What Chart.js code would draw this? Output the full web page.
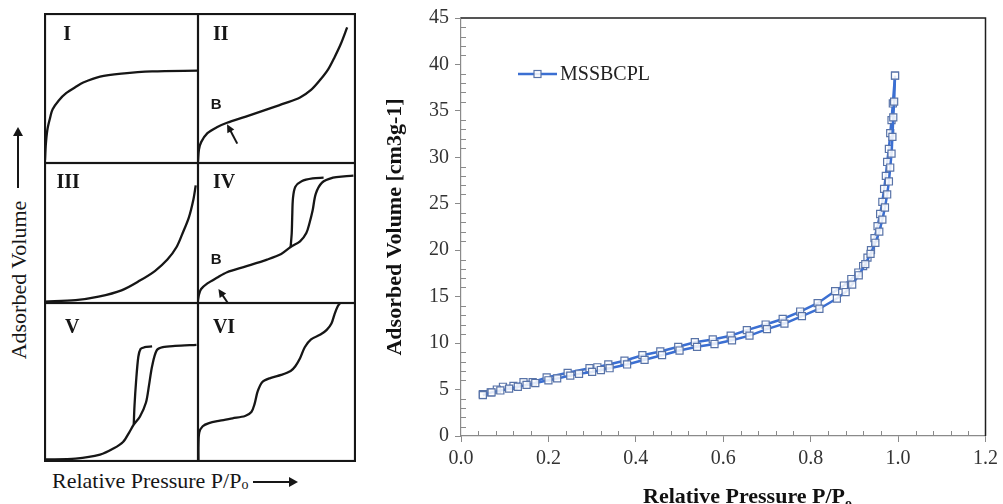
<!DOCTYPE html>
<html>
<head>
<meta charset="utf-8">
<title>Isotherm types and MSSBCPL isotherm</title>
<script src="https://cdn.jsdelivr.net/npm/chart.js@4.4.1/dist/chart.umd.min.js"></script>
<style>
  html, body { margin: 0; padding: 0; background: #fff; }
  body {
    position: relative;
    width: 1003px;
    height: 504px;
    overflow: hidden;
    font-family: "Liberation Serif", "Times New Roman", serif;
    color: #161616;
  }
  .panel { position: absolute; }
  #isoWrap { position: absolute; left: 380px; top: 0; width: 623px; height: 504px; }

  /* captions of the isotherm-type sketch */
  .volTitle {
    position: absolute; left: 19px; top: 280px;
    font-size: 22px; line-height: 22px; white-space: nowrap;
    transform: translate(-50%, -50%) rotate(-90deg);
  }
  .arrowUp { position: absolute; left: 17px; top: 131px; width: 2px; height: 57px; background: #161616; }
  .arrowUp::before {
    content: ""; position: absolute; left: -4px; top: -4px;
    border-left: 5px solid transparent; border-right: 5px solid transparent;
    border-bottom: 9px solid #161616;
  }
  .presTitle {
    position: absolute; left: 52px; top: 470px;
    font-size: 22px; line-height: 22px; white-space: nowrap;
  }
  .presTitle .o { font-size: 14px; vertical-align: -1px; }
  .arrowRight { position: absolute; left: 253px; top: 481px; width: 41px; height: 2px; background: #161616; }
  .arrowRight::after {
    content: ""; position: absolute; right: -4px; top: -4px;
    border-top: 5px solid transparent; border-bottom: 5px solid transparent;
    border-left: 9px solid #161616;
  }

  /* x axis title of the MSSBCPL chart */
  .xTitle {
    position: absolute; left: 643px; top: 485px;
    font-size: 22px; line-height: 22px; font-weight: bold; white-space: nowrap; color: #111;
  }
  .xTitle .o { font-size: 14px; vertical-align: -5px; }
</style>
</head>
<body>

<div class="arrowUp"></div>
<div class="volTitle">Adsorbed Volume</div>
<div class="presTitle">Relative Pressure P/P<span class="o">o</span></div>
<div class="arrowRight"></div>

<div id="isoWrap"><canvas id="isoChart"></canvas></div>
<div class="xTitle">Relative Pressure P/P<span class="o">o</span></div>

<script>
// ---- IUPAC isotherm type sketches (relative units, 0..1 in each box) ----
const typeIP = [0, 0.005, 0.015, 0.03, 0.05, 0.09, 0.14, 0.2, 0.25, 0.36, 0.5, 0.7, 1.0];
const typeIV_ = [0.02, 0.12, 0.22, 0.29, 0.36, 0.42, 0.47, 0.51, 0.54, 0.58, 0.6, 0.615, 0.62];

const typeIIP = [0, 0.006, 0.02, 0.06, 0.12, 0.185, 0.3, 0.44, 0.55, 0.65, 0.72, 0.78, 0.83, 0.87, 0.91, 0.95];
const typeIIV = [0.01, 0.09, 0.14, 0.2, 0.24, 0.27, 0.31, 0.36, 0.4, 0.44, 0.49, 0.56, 0.63, 0.71, 0.8, 0.91];

const typeIIIP = [0, 0.2, 0.35, 0.5, 0.62, 0.72, 0.8, 0.86, 0.9, 0.94, 0.97, 0.985];
const typeIIIV = [0.01, 0.02, 0.045, 0.09, 0.16, 0.23, 0.31, 0.4, 0.5, 0.61, 0.74, 0.84];

const typeIVadsP = [0, 0.006, 0.02, 0.06, 0.12, 0.185, 0.3, 0.44, 0.53, 0.59, 0.65, 0.69, 0.71, 0.73, 0.75, 0.79, 0.86, 0.93, 0.99];
const typeIVadsV = [0.02, 0.06, 0.1, 0.14, 0.18, 0.22, 0.26, 0.31, 0.35, 0.4, 0.44, 0.5, 0.57, 0.66, 0.78, 0.86, 0.895, 0.905, 0.91];
const typeIVdesP = [0.59, 0.597, 0.6, 0.605, 0.62, 0.66, 0.73, 0.8];
const typeIVdesV = [0.4, 0.5, 0.61, 0.75, 0.83, 0.87, 0.89, 0.895];

const typeVadsP = [0, 0.2, 0.36, 0.45, 0.51, 0.55, 0.58, 0.62, 0.66, 0.68, 0.7, 0.73, 0.77, 0.85, 0.99];
const typeVadsV = [0.01, 0.015, 0.04, 0.08, 0.12, 0.18, 0.23, 0.28, 0.37, 0.48, 0.6, 0.7, 0.72, 0.728, 0.735];
const typeVdesP = [0.58, 0.585, 0.595, 0.61, 0.625, 0.65, 0.7];
const typeVdesV = [0.23, 0.35, 0.5, 0.66, 0.71, 0.72, 0.725];

const typeVIP = [0.003, 0.003, 0.008, 0.03, 0.07, 0.14, 0.22, 0.3, 0.34, 0.36, 0.38, 0.41, 0.46, 0.53, 0.59, 0.62, 0.65, 0.68, 0.72, 0.78, 0.82, 0.85, 0.87, 0.89, 0.905];
const typeVIV = [0, 0.1, 0.18, 0.22, 0.24, 0.255, 0.27, 0.285, 0.31, 0.36, 0.44, 0.5, 0.525, 0.545, 0.57, 0.6, 0.65, 0.72, 0.77, 0.8, 0.83, 0.87, 0.93, 0.98, 1.0];

// ---- MSSBCPL N2 isotherm ----
const adsP = [0.05, 0.07, 0.09, 0.11, 0.13, 0.15, 0.17, 0.20, 0.22, 0.25, 0.27, 0.30, 0.32, 0.34, 0.38, 0.42, 0.46, 0.50, 0.54, 0.58, 0.62, 0.66, 0.70, 0.74, 0.78, 0.82, 0.86, 0.88, 0.895, 0.91, 0.925, 0.937, 0.948, 0.957, 0.964, 0.970, 0.975, 0.979, 0.982, 0.985, 0.987, 0.989, 0.991, 0.993];
const adsV = [4.4, 4.7, 4.9, 5.1, 5.3, 5.5, 5.7, 6.0, 6.2, 6.5, 6.7, 6.9, 7.1, 7.3, 7.7, 8.2, 8.7, 9.2, 9.6, 9.9, 10.3, 10.8, 11.5, 12.1, 12.9, 13.7, 14.8, 15.5, 16.3, 17.3, 18.5, 19.6, 20.8, 22.0, 23.3, 24.6, 26.0, 27.4, 28.9, 30.4, 32.2, 34.3, 36.0, 38.8];
const desP = [0.993, 0.988, 0.985, 0.982, 0.979, 0.975, 0.972, 0.968, 0.964, 0.959, 0.953, 0.946, 0.938, 0.930, 0.920, 0.909, 0.893, 0.876, 0.856, 0.816, 0.776, 0.736, 0.697, 0.654, 0.617, 0.576, 0.535, 0.497, 0.456, 0.415, 0.374, 0.337, 0.312, 0.294, 0.244, 0.196, 0.164, 0.143, 0.12, 0.096, 0.082, 0.068, 0.05];
const desV = [38.8, 35.8, 34.0, 32.6, 30.9, 29.5, 28.0, 26.6, 25.2, 23.9, 22.6, 21.3, 20.0, 19.2, 18.3, 17.6, 16.9, 16.2, 15.6, 14.3, 13.4, 12.6, 12.0, 11.4, 10.8, 10.4, 10.1, 9.6, 9.1, 8.7, 8.1, 7.7, 7.4, 7.3, 6.8, 6.3, 5.8, 5.8, 5.4, 5.3, 5.0, 4.7, 4.5];

const pressureTicks = [0, 0.2, 0.4, 0.6, 0.8, 1.0, 1.2];
const volumeTicks = [0, 5, 10, 15, 20, 25, 30, 35, 40, 45];

const ink = "#161616";
const lineBlue = "#3b6fd2";
const markEdge = "#5873a8";
const axisGray = "#8a8a8a";

Chart.defaults.font.family = '"Liberation Serif", "Times New Roman", serif';
Chart.defaults.animation = false;

function toPoints(xs, ys) {
  return xs.map((x, i) => ({ x: x, y: ys[i] }));
}

// ---------------- isotherm type boxes ----------------
const colEdges = [45, 198, 355];
const rowEdges = [14, 163, 303, 461];

const typePanels = [
  { col: 0, row: 0, label: "I", labelAt: [0.12, 0.86], curves: [[typeIP, typeIV_]] },
  { col: 1, row: 0, label: "II", labelAt: [0.095, 0.86], curves: [[typeIIP, typeIIV]],
    knee: [0.115, 0.39], arrow: [[0.25, 0.13], [0.185, 0.26]] },
  { col: 0, row: 1, label: "III", labelAt: [0.075, 0.857], curves: [[typeIIIP, typeIIIV]] },
  { col: 1, row: 1, label: "IV", labelAt: [0.095, 0.857], curves: [[typeIVadsP, typeIVadsV], [typeIVdesP, typeIVdesV]],
    knee: [0.115, 0.31], arrow: [[0.19, 0.0], [0.13, 0.1]] },
  { col: 0, row: 2, label: "V", labelAt: [0.13, 0.84], curves: [[typeVadsP, typeVadsV], [typeVdesP, typeVdesV]] },
  { col: 1, row: 2, label: "VI", labelAt: [0.095, 0.84], curves: [[typeVIP, typeVIV]] }
];

// box outline, roman numeral, "B" point and its arrow
function panelMarks(p) {
  return {
    id: "panelMarks",
    afterDatasetsDraw(chart) {
      const { ctx, scales: { x, y } } = chart;
      ctx.save();
      ctx.strokeStyle = ink;
      ctx.fillStyle = ink;
      ctx.lineWidth = 2.2;
      ctx.strokeRect(1, 1, chart.width - 2, chart.height - 2);

      ctx.font = 'bold 20px "Liberation Serif"';
      ctx.textBaseline = "middle";
      ctx.fillText(p.label, x.getPixelForValue(p.labelAt[0]), y.getPixelForValue(p.labelAt[1]));

      if (p.knee) {
        ctx.font = 'bold 15px "Liberation Sans"';
        ctx.textAlign = "center";
        ctx.fillText("B", x.getPixelForValue(p.knee[0]), y.getPixelForValue(p.knee[1]));
      }
      if (p.arrow) {
        const x1 = x.getPixelForValue(p.arrow[0][0]), y1 = y.getPixelForValue(p.arrow[0][1]);
        const x2 = x.getPixelForValue(p.arrow[1][0]), y2 = y.getPixelForValue(p.arrow[1][1]);
        const a = Math.atan2(y2 - y1, x2 - x1);
        ctx.lineWidth = 2;
        ctx.beginPath();
        ctx.moveTo(x1, y1);
        ctx.lineTo(x2 - 4 * Math.cos(a), y2 - 4 * Math.sin(a));
        ctx.stroke();
        ctx.beginPath();
        ctx.moveTo(x2, y2);
        ctx.lineTo(x2 - 9 * Math.cos(a - 0.45), y2 - 9 * Math.sin(a - 0.45));
        ctx.lineTo(x2 - 9 * Math.cos(a + 0.45), y2 - 9 * Math.sin(a + 0.45));
        ctx.closePath();
        ctx.fill();
      }
      ctx.restore();
    }
  };
}

typePanels.forEach(p => {
  const box = document.createElement("div");
  box.className = "panel";
  box.style.left = (colEdges[p.col] - 1) + "px";
  box.style.top = (rowEdges[p.row] - 1) + "px";
  box.style.width = (colEdges[p.col + 1] - colEdges[p.col] + 2) + "px";
  box.style.height = (rowEdges[p.row + 1] - rowEdges[p.row] + 2) + "px";
  const canvas = document.createElement("canvas");
  box.appendChild(canvas);
  document.body.appendChild(box);

  new Chart(canvas, {
    type: "scatter",
    data: {
      datasets: p.curves.map(c => ({
        data: toPoints(c[0], c[1]),
        showLine: true,
        borderColor: ink,
        borderWidth: 2.3,
        pointRadius: 0,
        tension: 0.3,
        clip: false
      }))
    },
    options: {
      responsive: true,
      maintainAspectRatio: false,
      events: [],
      layout: { padding: 1 },
      plugins: { legend: { display: false }, tooltip: { enabled: false } },
      scales: {
        x: { type: "linear", min: 0, max: 1, display: false },
        y: { type: "linear", min: 0, max: 1, display: false }
      }
    },
    plugins: [panelMarks(p)]
  });
});

// ---------------- MSSBCPL isotherm chart ----------------

// Minor ticks: inside the plot, 1 unit on volume, 0.04 on pressure
const minorTicks = {
  id: "minorTicks",
  afterDraw(chart) {
    const { ctx, chartArea, scales: { x, y } } = chart;
    ctx.save();
    ctx.strokeStyle = axisGray;
    ctx.lineWidth = 1;
    ctx.beginPath();
    for (let i = 1; i < 45; i++) {
      if (i % 5 === 0) continue;
      const py = Math.round(y.getPixelForValue(i)) + 0.5;
      ctx.moveTo(chartArea.left, py);
      ctx.lineTo(chartArea.left + 5, py);
    }
    for (let i = 1; i < 30; i++) {
      if (i % 5 === 0) continue;
      const px = Math.round(x.getPixelForValue(i * 0.04)) + 0.5;
      ctx.moveTo(px, chartArea.bottom);
      ctx.lineTo(px, chartArea.bottom - 5);
    }
    ctx.stroke();
    ctx.restore();
  }
};

// black top and right edges of the plot area
const plotFrame = {
  id: "plotFrame",
  afterDraw(chart) {
    const { ctx, chartArea: { left, top, right, bottom } } = chart;
    ctx.save();
    ctx.strokeStyle = "#1e1e1e";
    ctx.lineWidth = 1.5;
    ctx.beginPath();
    ctx.moveTo(left, top);
    ctx.lineTo(right, top);
    ctx.lineTo(right, bottom);
    ctx.stroke();
    ctx.restore();
  }
};

// legend entry: line with a square marker, then the series name
const keyEntry = {
  id: "keyEntry",
  afterDraw(chart) {
    const { ctx, chartArea } = chart;
    const ds = chart.data.datasets[0];
    const x0 = chartArea.left + 57, x1 = chartArea.left + 96, yc = chartArea.top + 56;
    ctx.save();
    ctx.strokeStyle = ds.borderColor;
    ctx.lineWidth = ds.borderWidth;
    ctx.beginPath();
    ctx.moveTo(x0, yc);
    ctx.lineTo(x1, yc);
    ctx.stroke();
    const s = 3.5, xm = (x0 + x1) / 2;
    ctx.fillStyle = ds.pointBackgroundColor;
    ctx.fillRect(xm - s, yc - s, 2 * s, 2 * s);
    ctx.strokeStyle = ds.pointBorderColor;
    ctx.lineWidth = ds.pointBorderWidth;
    ctx.strokeRect(xm - s, yc - s, 2 * s, 2 * s);
    ctx.fillStyle = "#222";
    ctx.font = '20px "Liberation Serif"';
    ctx.textBaseline = "middle";
    ctx.fillText(ds.label, x1 + 3, yc + 1);
    ctx.restore();
  }
};

const seriesStyle = {
  showLine: true,
  borderColor: lineBlue,
  borderWidth: 2.5,
  pointStyle: "rect",
  pointRadius: 5,
  pointBorderColor: markEdge,
  pointBorderWidth: 1.2,
  pointBackgroundColor: "rgba(255,255,255,0.85)",
  tension: 0
};

const tickFont = { family: '"Liberation Serif", "Times New Roman", serif', size: 20 };

new Chart(document.getElementById("isoChart"), {
  type: "scatter",
  data: {
    datasets: [
      Object.assign({ label: "MSSBCPL", data: toPoints(adsP, adsV) }, seriesStyle),
      Object.assign({ label: "MSSBCPL desorption", data: toPoints(desP, desV) }, seriesStyle)
    ]
  },
  options: {
    responsive: true,
    maintainAspectRatio: false,
    events: [],
    layout: { padding: { top: 16, right: 17, left: 0, bottom: 0 } },
    plugins: { legend: { display: false }, tooltip: { enabled: false } },
    scales: {
      x: {
        type: "linear",
        min: pressureTicks[0],
        max: pressureTicks[pressureTicks.length - 1],
        afterBuildTicks: axis => { axis.ticks = pressureTicks.map(v => ({ value: v })); },
        ticks: { font: tickFont, color: "#333", padding: 5, maxRotation: 0, callback: v => Number(v).toFixed(1) },
        grid: { drawOnChartArea: false, tickLength: 6, color: axisGray },
        border: { color: axisGray, width: 1.2 },
        afterFit: axis => { axis.height = 68; }
      },
      y: {
        type: "linear",
        min: volumeTicks[0],
        max: volumeTicks[volumeTicks.length - 1],
        afterBuildTicks: axis => { axis.ticks = volumeTicks.map(v => ({ value: v })); },
        ticks: { font: tickFont, color: "#333", padding: 6 },
        grid: { drawOnChartArea: false, tickLength: 6, color: axisGray },
        border: { color: axisGray, width: 1.2 },
        title: {
          display: true,
          text: "Adsorbed Volume [cm3g-1]",
          color: "#111",
          font: { family: '"Liberation Serif", "Times New Roman", serif', size: 22, weight: "bold" },
          padding: { top: 2, bottom: 0 }
        },
        afterFit: axis => { axis.width = 81; }
      }
    }
  },
  plugins: [minorTicks, plotFrame, keyEntry]
});
</script>
</body>
</html>
